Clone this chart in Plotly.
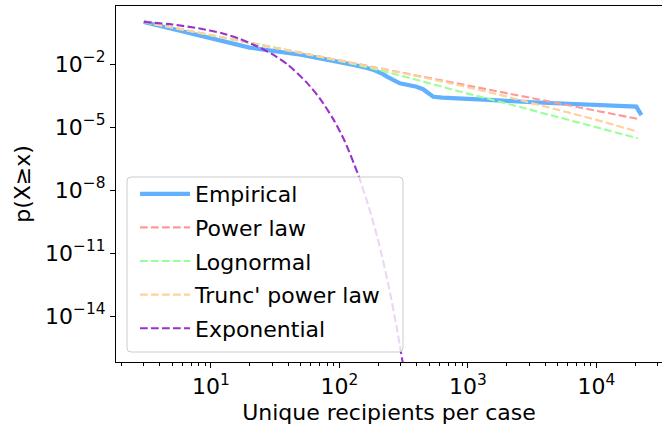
import plotly.graph_objects as go

# ---- data (x: unique recipients per case, y: p(X>=x)) ----
emp_x = [3, 4, 5, 7, 10, 13, 17, 20, 25, 32, 40, 50, 63, 79, 100, 126, 158, 182, 214, 234,
         295, 339, 398, 447, 479, 537, 631, 871, 1585, 3162, 10000, 20400, 22400]
emp_y = [1.0, 0.646, 0.457, 0.275, 0.162, 0.115, 0.0708, 0.0603, 0.0501, 0.0417, 0.0347,
         0.0275, 0.0214, 0.0166, 0.0126, 0.00933, 0.00676, 0.00537, 0.00355, 0.00251,
         0.0012, 0.001, 8.3e-4, 6.3e-4, 4.8e-4, 2.75e-4, 2.5e-4, 2.34e-4, 1.9e-4, 1.51e-4,
         1.12e-4, 9.3e-5, 3.7e-5]

pl_x = [3, 10, 30, 100, 300, 1000, 3000, 10000, 21000]
pl_y = [1.0, 0.236, 0.063, 0.0149, 0.004, 9.4e-4, 2.5e-4, 5.9e-5, 2.43e-5]

ln_x = [3, 10, 32, 100, 200, 398, 871, 1995, 5012, 10000, 21000]
ln_y = [1.0, 0.24, 0.0589, 0.0141, 0.00525, 0.00178, 4.8e-4, 1.32e-4, 3.0e-5, 1.0e-5, 2.9e-6]

tpl_x = [3, 10, 32, 100, 316, 871, 1995, 5012, 10000, 21000]
tpl_y = [1.0, 0.234, 0.0589, 0.0148, 0.00363, 9.5e-4, 2.82e-4, 6.6e-5, 2.19e-5, 6.0e-6]

exp_x = [3, 5, 8, 12, 17, 23, 30, 40, 55, 70, 90, 110, 140, 170, 200, 240, 280, 320]
exp_y = [1.0, 0.76, 0.5, 0.30, 0.151, 0.0676, 0.0295, 0.0089, 1.41e-3, 2.4e-4, 2.24e-5,
         2.1e-6, 5.2e-8, 1.41e-9, 4.0e-11, 3.2e-13, 2.5e-15, 2.0e-17]

series_names = ["Empirical", "Power law", "Lognormal", "Trunc' power law", "Exponential"]

x_major = [10, 100, 1000, 10000]
x_major_text = ["10<sup>1</sup>", "10<sup>2</sup>", "10<sup>3</sup>", "10<sup>4</sup>"]
y_major = [1e-14, 1e-11, 1e-8, 1e-5, 1e-2]
y_major_text = ["10<sup>\u221214</sup>", "10<sup>\u221211</sup>", "10<sup>\u22128</sup>",
                "10<sup>\u22125</sup>", "10<sup>\u22122</sup>"]
x_minor = [m * 10 ** d for d in range(0, 5) for m in range(2, 10)]

FONT = "DejaVu Sans, Verdana, sans-serif"
DASH = "7.7px,3.3px"

fig = go.Figure()
fig.add_trace(go.Scatter(x=emp_x, y=emp_y, mode="lines", name=series_names[0], legendgroup="a",
                         line=dict(color="#61b1ff", width=4.2)))
fig.add_trace(go.Scatter(x=pl_x, y=pl_y, mode="lines", name=series_names[1], legendgroup="b",
                         line=dict(color="#ff9999", width=2.1, dash=DASH)))
fig.add_trace(go.Scatter(x=ln_x, y=ln_y, mode="lines", name=series_names[2], legendgroup="c",
                         line=dict(color="#99ff99", width=2.1, dash=DASH)))
fig.add_trace(go.Scatter(x=tpl_x, y=tpl_y, mode="lines", name=series_names[3], legendgroup="d",
                         line=dict(color="#ffd199", width=2.1, dash=DASH)))
fig.add_trace(go.Scatter(x=exp_x, y=exp_y, mode="lines", name=series_names[4], legendgroup="e",
                         line=dict(color="#9932cc", width=2.1, dash=DASH, shape="spline", smoothing=0.6)))

# legend frame (matplotlib style: rounded, light grey, white 0.8 alpha)
W, H = 546.0, 356.0
x0, x1 = (127 - 116) / W, (403 - 116) / W
y0, y1 = (362 - 352) / H, (362 - 177) / H
rx, ry = 4 / W, 4 / H
path = (f"M{x0+rx},{y0} L{x1-rx},{y0} Q{x1},{y0} {x1},{y0+ry} L{x1},{y1-ry} "
        f"Q{x1},{y1} {x1-rx},{y1} L{x0+rx},{y1} Q{x0},{y1} {x0},{y1-ry} "
        f"L{x0},{y0+ry} Q{x0},{y0} {x0+rx},{y0} Z")
fig.add_shape(type="path", path=path, xref="paper", yref="paper", layer="above",
              fillcolor="rgba(255,255,255,0.8)", line=dict(color="#cccccc", width=1))

fig.update_layout(
    width=662, height=432,
    margin=dict(l=116, r=0, t=6, b=70),
    paper_bgcolor="white", plot_bgcolor="white",
    font=dict(family=FONT, size=22, color="black"),
    showlegend=True,
    legend=dict(x=(135 - 116) / W, y=(362 - 173) / H, xanchor="left", yanchor="top",
                bgcolor="rgba(0,0,0,0)", borderwidth=0, itemwidth=50,
                tracegroupgap=2, font=dict(family=FONT, size=22, color="black")),
)
fig.update_xaxes(
    type="log", range=[0.261, 4.51],
    showline=True, linecolor="black", linewidth=1.1, mirror=True,
    showgrid=False, zeroline=False,
    tickmode="array", tickvals=x_major, ticktext=x_major_text,
    ticks="outside", ticklen=5, tickwidth=1.1, tickcolor="black",
    minor=dict(tickvals=x_minor, ticks="outside", ticklen=3, tickwidth=0.8, tickcolor="black", showgrid=False),
    title=dict(text="Unique recipients per case", font=dict(family=FONT, size=22), standoff=6),
)
fig.update_yaxes(
    type="log", range=[-16.19, 0.762],
    showline=True, linecolor="black", linewidth=1.1, mirror=False,
    showgrid=False, zeroline=False,
    tickmode="array", tickvals=y_major, ticktext=y_major_text,
    ticks="outside", ticklen=5, tickwidth=1.1, tickcolor="black",
    title=dict(text="p(X\u2265x)", font=dict(family=FONT, size=22), standoff=8),
)

fig.write_html("out.html", config={"displayModeBar": False},
               post_script="document.body.style.margin='0';document.body.style.padding='0';")
